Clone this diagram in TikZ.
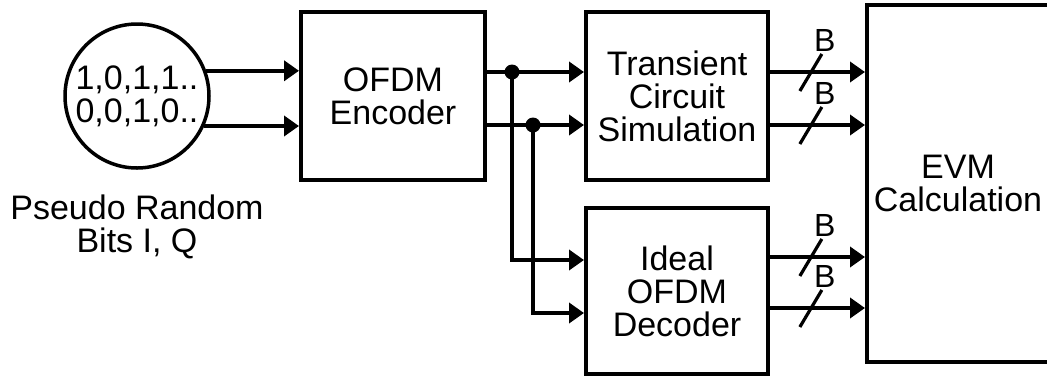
\documentclass[tikz,border=0pt]{standalone}
\usepackage{fontspec}
\setmainfont{Liberation Sans}
\usetikzlibrary{arrows.meta}
\tikzset{
	blk/.style={draw, rectangle, inner sep=0pt, align=center},
	blab/.style={pos=0.43, xshift=14pt, yshift=32pt, inner sep=0pt, font=\fontsize{32}{32}\selectfont}
}
\begin{document}
\begin{tikzpicture}[x=1pt, y=-1pt, line width=4pt, >={Triangle[length=15pt,width=20pt]},
		font=\fontsize{34}{33}\selectfont]
	\useasboundingbox (0,0) rectangle (1047,376);
	\node[circle, draw, line width=3.5pt, minimum size=144pt, inner sep=0pt, align=center] (bits) at (137,96) {1,0,1,1..\\0,0,1,0..};
	\node[align=center] (bitsname) at (137,227) {Pseudo Random\\Bits I, Q};
	\node[blk, minimum width=184pt, minimum height=168pt] (enc) at (393,96) {OFDM\\Encoder};
	\node[blk, minimum width=182pt, minimum height=168pt] (trans) at (677,96) {Transient\\Circuit\\Simulation};
	\node[blk, minimum width=182pt, minimum height=166pt] (ideal) at (677,291) {Ideal\\OFDM\\Decoder};
	\node[blk, minimum width=182pt, minimum height=357pt] (evm) at (958,183.5) {EVM\\Calculation};
	\coordinate (j1) at (512,72);
	\coordinate (j2) at (533,125);
	\coordinate (rI2) at (0,260);
	\coordinate (rQ2) at (0,313);
	\coordinate (oI2) at (0,257);
	\coordinate (oQ2) at (0,308);

	\path[->]
	(bits.20) edge (bits.20 -| enc.west)
	(bits.-24) edge (bits.-24 -| enc.west)
	(enc.east |- j1) edge (trans.west |- j1)
	(enc.east |- j2) edge (trans.west |- j2);
	\draw[->] (j1) |- (ideal.west |- rI2);
	\draw[->] (j2) |- (ideal.west |- rQ2);
	\fill (j1) circle (7.5pt) (j2) circle (7.5pt);

	\draw[->] (trans.east |- j1) -- coordinate[pos=0.43] (s1) node[blab]{B} (evm.west |- j1);
	\draw[->] (trans.east |- j2) -- coordinate[pos=0.43] (s2) node[blab]{B} (evm.west |- j2);
	\draw[->] (ideal.east |- oI2) -- coordinate[pos=0.43] (s3) node[blab]{B} (evm.west |- oI2);
	\draw[->] (ideal.east |- oQ2) -- coordinate[pos=0.43] (s4) node[blab]{B} (evm.west |- oQ2);
	\foreach \s in {s1,s2,s3,s4}
		\draw[line width=3.2pt] (\s) ++(-11,19) -- ++(22,-37);
\end{tikzpicture}
\end{document}
